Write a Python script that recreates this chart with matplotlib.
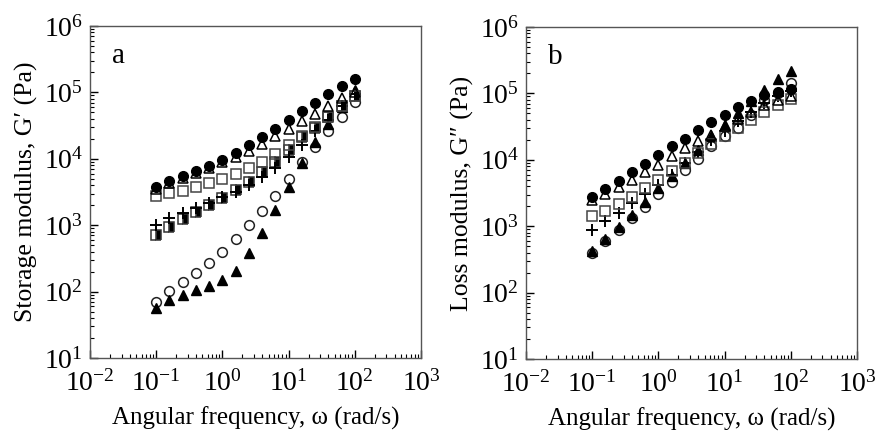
import matplotlib
matplotlib.use("Agg")
import matplotlib.pyplot as plt
from matplotlib.ticker import LogLocator, FixedLocator, NullFormatter

plt.rcParams['font.family'] = ['Liberation Serif', 'DejaVu Serif']
plt.rcParams['mathtext.fontset'] = 'custom'
plt.rcParams['mathtext.rm'] = 'Liberation Serif'
plt.rcParams['mathtext.it'] = 'Liberation Serif:italic'

freq = [0.1, 0.158, 0.251, 0.398, 0.631, 1.0, 1.58, 2.51, 3.98, 6.31,
        10, 15.8, 25.1, 39.8, 63.1, 100]

# Panel a: storage modulus G'
a_filled_circle = [3800, 4700, 5600, 6500, 7900, 9500, 12200, 15900, 21000, 28000,
                   38600, 52000, 70000, 93000, 123000, 158000]
a_open_triangle = [3500, 4300, 5200, 6100, 7300, 8800, 10500, 13000, 16700, 21700,
                   28000, 36500, 47500, 63000, 82000, 102000]
a_open_square = [2770, 3050, 3300, 3700, 4250, 5000, 5950, 7200, 9100, 11900,
                 15900, 21700, 29800, 43000, 63000, 87000]
a_half_square = [710, 930, 1230, 1570, 2000, 2550, 3400, 4550, 6400, 8900,
                 13600, 21000, 29500, 43000, 62000, 87000]
a_plus = [1000, 1270, 1520, 1800, 2150, 2650, 3200, 4100, 5400, 7200,
          10800, 16300, 26000, 38600, 62000, 96000]
a_open_circle = [69, 102, 138, 190, 267, 390, 615, 1000, 1660, 2800,
                 5000, 9000, 15300, 26000, 43000, 71000]
a_filled_triangle = [56, 75, 89, 106, 123, 150, 207, 380, 775, 1700,
                     3800, 8600, 17600, 34000, 60000, 107000]

# Panel b: loss modulus G''
b_filled_circle = [2800, 3620, 4800, 6450, 8600, 11750, 15900, 20700, 27700, 36900,
                   48000, 62000, 77000, 95000, 105000, 117000]
b_open_triangle = [2500, 3080, 3880, 5000, 6450, 8400, 11500, 15000, 18900, 23800,
                   31800, 40900, 52000, 67500, 80000, 90000]
b_open_square = [1400, 1700, 2170, 2800, 3740, 4990, 6900, 9100, 12600, 17400,
                 23000, 30000, 39900, 52000, 67500, 83000]
b_plus = [880, 1180, 1590, 2240, 3040, 4200, 5950, 8900, 13300, 20000,
          26700, 37800, 51600, 71000, 90000, 107000]
b_open_circle = [395, 590, 880, 1320, 1980, 3080, 4560, 7070, 10200, 15900,
                 22500, 30000, 47600, 80000, 100000, 143000]
b_filled_triangle = [430, 640, 970, 1480, 2350, 3740, 5800, 8900, 14100, 22500,
                     33600, 50400, 75600, 113000, 164000, 221000]

xticks = [1e-2, 1e-1, 1e0, 1e1, 1e2, 1e3]
xtick_labels = ['$10^{-2}$', '$10^{-1}$', '$10^{0}$', '$10^{1}$', '$10^{2}$', '$10^{3}$']
yticks = [1e1, 1e2, 1e3, 1e4, 1e5, 1e6]
ytick_labels = ['$10^{1}$', '$10^{2}$', '$10^{3}$', '$10^{4}$', '$10^{5}$', '$10^{6}$']

fig = plt.figure(figsize=(8.76, 4.33), dpi=100)
axa = fig.add_axes([90/876, 75/433, 331/876, 332/433])
axb = fig.add_axes([526/876, 74/433, 331/876, 332/433])

ms = 7
def filled_circle(ax, y):
    ax.plot(freq, y, 'o', ls='none', ms=ms, mfc='black', mec='black', mew=1, zorder=6)
def open_triangle(ax, y):
    ax.plot(freq, y, '^', ls='none', ms=ms + 0.5, mfc='none', mec='black', mew=1.1, zorder=5)
def open_square(ax, y):
    ax.plot(freq, y, 's', ls='none', ms=ms - 0.5, mfc='none', mec='#444444', mew=1.1, zorder=4)
def half_square(ax, y):
    ax.plot(freq, y, 's', ls='none', ms=ms - 0.5, fillstyle='right', mfc='black',
            mfcalt='white', mec='#333333', mew=1.1, zorder=3)
def plus(ax, y):
    ax.plot(freq, y, '+', ls='none', ms=ms + 2, mec='black', mew=1.4, zorder=3.5)
def open_circle(ax, y):
    ax.plot(freq, y, 'o', ls='none', ms=ms, mfc='none', mec='#222222', mew=1.1, zorder=2)
def filled_triangle(ax, y):
    ax.plot(freq, y, '^', ls='none', ms=ms + 0.5, mfc='black', mec='black', mew=1, zorder=2.5)

filled_triangle(axa, a_filled_triangle)
open_circle(axa, a_open_circle)
half_square(axa, a_half_square)
plus(axa, a_plus)
open_square(axa, a_open_square)
open_triangle(axa, a_open_triangle)
filled_circle(axa, a_filled_circle)

open_circle(axb, b_open_circle)
filled_triangle(axb, b_filled_triangle)
plus(axb, b_plus)
open_square(axb, b_open_square)
open_triangle(axb, b_open_triangle)
filled_circle(axb, b_filled_circle)

for ax, letter, ylabel in [(axa, 'a', 'Storage modulus, G\u2032 (Pa)'),
                           (axb, 'b', 'Loss modulus, G\u2033 (Pa)')]:
    ax.set_xscale('log')
    ax.set_yscale('log')
    ax.set_xlim(1e-2, 1e3)
    ax.set_ylim(1e1, 1e6)
    ax.xaxis.set_major_locator(FixedLocator(xticks))
    ax.set_xticklabels(xtick_labels)
    ax.yaxis.set_major_locator(FixedLocator(yticks))
    ax.set_yticklabels(ytick_labels)
    ax.xaxis.set_minor_locator(LogLocator(base=10, subs=range(2, 10), numticks=20))
    ax.yaxis.set_minor_locator(LogLocator(base=10, subs=range(2, 10), numticks=20))
    ax.xaxis.set_minor_formatter(NullFormatter())
    ax.yaxis.set_minor_formatter(NullFormatter())
    ax.tick_params(which='both', direction='in', top=False, right=False,
                   labelsize=20, colors='black')
    ax.tick_params(axis='x', which='major', length=6, width=1, pad=9)
    ax.tick_params(axis='y', which='major', length=6, width=1, pad=5)
    ax.tick_params(which='minor', length=3, width=0.8)
    for s in ax.spines.values():
        s.set_linewidth(1.0)
        s.set_color('#555555')
    ax.set_xlabel('Angular frequency, \u03c9 (rad/s)', fontsize=18, labelpad=7)
    ax.set_ylabel(ylabel, fontsize=18.5, labelpad=4)
    ax.text(0.065, 0.91, letter, transform=ax.transAxes, fontsize=21,
            ha='left', va='center')

fig.savefig('out.png', dpi=100)
